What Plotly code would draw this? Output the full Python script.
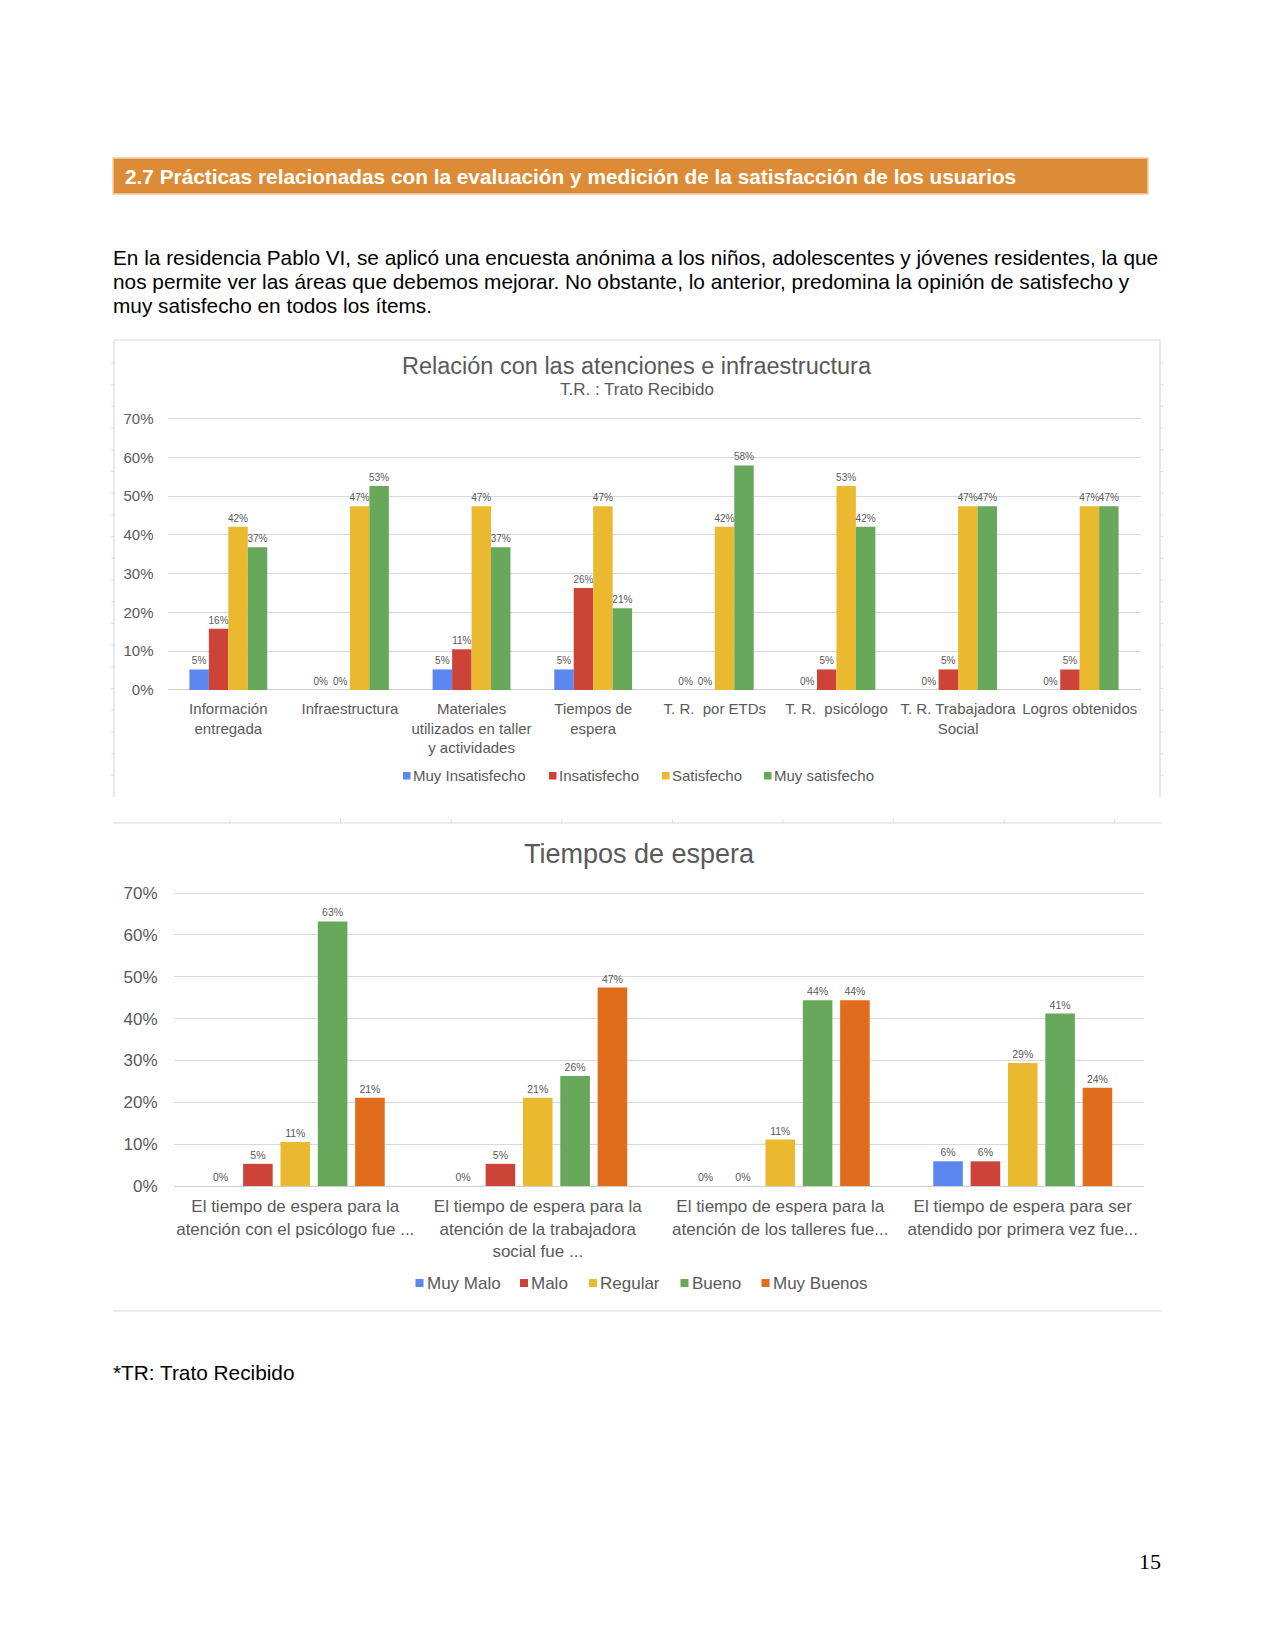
import plotly.graph_objects as go

# page is drawn with an 8px body margin offset, so the figure is sized to fit
OFF = 8
W, H = 1275 - OFF, 1650 - 2 * OFF
def px(x): return (x - OFF) / W
def py(y): return 1 - (y - OFF) / H

# ---------------- data ----------------
cats1 = ["Información<br>entregada", "Infraestructura",
         "Materiales<br>utilizados en taller<br>y actividades", "Tiempos de<br>espera",
         "T. R.  por ETDs", "T. R.  psicólogo", "T. R. Trabajadora<br>Social",
         "Logros obtenidos"]
series1_names = ["Muy Insatisfecho", "Insatisfecho", "Satisfecho", "Muy satisfecho"]
muy_insatisfecho = [5.3, 0, 5.3, 5.3, 0, 0, 0, 0]
insatisfecho = [15.8, 0, 10.5, 26.3, 0, 5.3, 5.3, 5.3]
satisfecho = [42.1, 47.4, 47.4, 47.4, 42.1, 52.6, 47.4, 47.4]
muy_satisfecho = [36.8, 52.6, 36.8, 21.1, 57.9, 42.1, 47.4, 47.4]

cats2 = ["El tiempo de espera para la<br>atención con el psicólogo fue ...",
         "El tiempo de espera para la<br>atención de la trabajadora<br>social fue ...",
         "El tiempo de espera para la<br>atención de los talleres fue...",
         "El tiempo de espera para ser<br>atendido por primera vez fue..."]
series2_names = ["Muy Malo", "Malo", "Regular", "Bueno", "Muy Buenos"]
muy_malo = [0, 0, 0, 5.9]
malo = [5.3, 5.3, 0, 5.9]
regular = [10.5, 21.1, 11.1, 29.4]
bueno = [63.2, 26.3, 44.4, 41.2]
muy_buenos = [21.1, 47.4, 44.4, 23.5]

y_ticks = [0, 10, 20, 30, 40, 50, 60, 70]
y_ticktext = [f"{v}%" for v in y_ticks]
Y_MAX = 70.3  # a little headroom so the 70% gridline is drawn

# ---------------- style ----------------
BLUE, RED, YEL, GRN, ORG = "#5B87EF", "#CC4437", "#EBB92F", "#67A85B", "#E06C1E"
GREY = "#595959"
FONT = "Liberation Sans, Arial, sans-serif"

def top_px(zero_px, seventy_px):
    return zero_px - (zero_px - seventy_px) * Y_MAX / 70

fig = go.Figure()

# chart 1 bars
c1 = [BLUE, RED, YEL, GRN]
bw1, slot1 = 0.16, 0.16
for i, (name, vals) in enumerate(zip(series1_names,
                                     [muy_insatisfecho, insatisfecho, satisfecho, muy_satisfecho])):
    fig.add_trace(go.Bar(
        x=cats1, y=vals, name=name, marker_color=c1[i], marker_line_width=0,
        width=bw1, offset=-2 * slot1 + i * slot1,
        text=vals, texttemplate="%{y:.0f}%", textposition="outside",
        textfont=dict(size=10, color=GREY, family=FONT), constraintext="none",
        cliponaxis=False, xaxis="x", yaxis="y", showlegend=False))

# chart 2 bars
c2 = [BLUE, RED, YEL, GRN, ORG]
slot2, bw2 = 0.154, 0.122
for i, (name, vals) in enumerate(zip(series2_names,
                                     [muy_malo, malo, regular, bueno, muy_buenos])):
    fig.add_trace(go.Bar(
        x=cats2, y=vals, name=name, marker_color=c2[i], marker_line_width=0,
        width=bw2, offset=-2.5 * slot2 + i * slot2 + (slot2 - bw2) / 2,
        text=vals, texttemplate="%{y:.0f}%", textposition="outside",
        textfont=dict(size=10.5, color=GREY, family=FONT), constraintext="none",
        cliponaxis=False, xaxis="x2", yaxis="y2", showlegend=False))

axis_common = dict(showgrid=False, showline=False, zeroline=False, tickangle=0,
                   ticks="outside", tickcolor="rgba(0,0,0,0)", fixedrange=True)
yaxis_common = dict(range=[0, Y_MAX], tickmode="array", tickvals=y_ticks, ticktext=y_ticktext,
                    showgrid=True, gridcolor="#D9D9D9", gridwidth=1, zeroline=True,
                    zerolinecolor="#CFCFCF", zerolinewidth=1, showline=False, ticks="outside",
                    tickcolor="rgba(0,0,0,0)", fixedrange=True)

fig.update_layout(
    width=W, height=H, margin=dict(l=0, r=0, t=0, b=0, pad=0, autoexpand=False),
    paper_bgcolor="white", plot_bgcolor="white", barmode="overlay",
    font=dict(family=FONT, color=GREY), showlegend=False,
    xaxis=dict(domain=[px(167.5), px(1140.5)], anchor="y", ticklen=5,
               tickfont=dict(size=15, color=GREY), **axis_common),
    yaxis=dict(domain=[py(690), py(top_px(690, 418.5))], anchor="x", ticklen=10,
               tickfont=dict(size=15, color=GREY), **yaxis_common),
    xaxis2=dict(domain=[px(174), px(1144)], anchor="y2", ticklen=5,
                tickfont=dict(size=17, color=GREY), **axis_common),
    yaxis2=dict(domain=[py(1186), py(top_px(1186, 893))], anchor="x2", ticklen=12,
                tickfont=dict(size=17, color=GREY), **yaxis_common),
)

shapes = []
# header bar
shapes.append(dict(type="rect", xref="paper", yref="paper", x0=px(113), x1=px(1148),
                   y0=py(194), y1=py(158), fillcolor="#DC8C36",
                   line=dict(color="#F3CFA8", width=1.5), layer="below"))
# chart 1 frame (top, left, right)
fr = dict(color="#D9D9D9", width=1.2)
shapes.append(dict(type="line", xref="paper", yref="paper", x0=px(114), x1=px(1160), y0=py(340), y1=py(340), line=fr))
shapes.append(dict(type="line", xref="paper", yref="paper", x0=px(114), x1=px(114), y0=py(340), y1=py(797), line=fr))
shapes.append(dict(type="line", xref="paper", yref="paper", x0=px(1160), x1=px(1160), y0=py(340), y1=py(797), line=fr))
# small outer ticks on chart 1 frame
tk = dict(color="#DDDDDD", width=1)
yy = 363
while yy < 797:
    shapes.append(dict(type="line", xref="paper", yref="paper", x0=px(111), x1=px(114), y0=py(yy), y1=py(yy), line=tk))
    shapes.append(dict(type="line", xref="paper", yref="paper", x0=px(1160), x1=px(1163), y0=py(yy), y1=py(yy), line=tk))
    yy += 21.7
# chart 2 top / bottom lines
shapes.append(dict(type="line", xref="paper", yref="paper", x0=px(113), x1=px(1162), y0=py(823), y1=py(823), line=fr))
xx = 230
while xx < 1160:
    shapes.append(dict(type="line", xref="paper", yref="paper", x0=px(xx), x1=px(xx), y0=py(823), y1=py(819), line=tk))
    xx += 110.6
shapes.append(dict(type="line", xref="paper", yref="paper", x0=px(113), x1=px(1162), y0=py(1311), y1=py(1311), line=fr))

def txt(x, y, s, size, color="black", anchor="left", family=FONT, bold=False):
    if bold:
        s = "<b>" + s + "</b>"
    fig.add_annotation(xref="paper", yref="paper", x=px(x), y=py(y), text=s, showarrow=False,
                       xanchor=anchor, yanchor="middle", borderpad=0,
                       font=dict(size=size, color=color, family=family))

# legends (swatch + label) for each chart
leg1_x = [403, 549, 662, 764]
for name, col, lx in zip(series1_names, c1, leg1_x):
    shapes.append(dict(type="rect", xref="paper", yref="paper", x0=px(lx), x1=px(lx + 7.5),
                       y0=py(779.5), y1=py(772), fillcolor=col, line=dict(width=0)))
    txt(lx + 9, 775.5, name, 15, GREY)
leg2_x = [415.5, 520, 589, 680.5, 761.5]
for name, col, lx in zip(series2_names, c2, leg2_x):
    shapes.append(dict(type="rect", xref="paper", yref="paper", x0=px(lx), x1=px(lx + 8),
                       y0=py(1287), y1=py(1279), fillcolor=col, line=dict(width=0)))
    txt(lx + 10, 1283, name, 17, GREY)

fig.update_layout(shapes=shapes)

txt(124, 176.5, "2.7 Prácticas relacionadas con la evaluación y medición de la satisfacción de los usuarios",
    20.8, "white", bold=True)
para = ["En la residencia Pablo VI, se aplicó una encuesta anónima a los niños, adolescentes y jóvenes residentes, la que",
        "nos permite ver las áreas que debemos mejorar. No obstante, lo anterior, predomina la opinión de satisfecho y",
        "muy satisfecho en todos los ítems."]
for k, line in enumerate(para):
    txt(112, 257 + 24.2 * k, line, 20.8)

txt(637, 366, "Relación con las atenciones e infraestructura", 23.5, GREY, "center")
txt(637, 389, "T.R. : Trato Recibido", 17, GREY, "center")
txt(639, 854, "Tiempos de espera", 27, GREY, "center")

txt(112, 1372, "*TR: Trato Recibido", 20.8)
txt(1162, 1561, "15", 22, "black", "right", family="Liberation Serif, Times New Roman, serif")

fig.write_html("out.html")
